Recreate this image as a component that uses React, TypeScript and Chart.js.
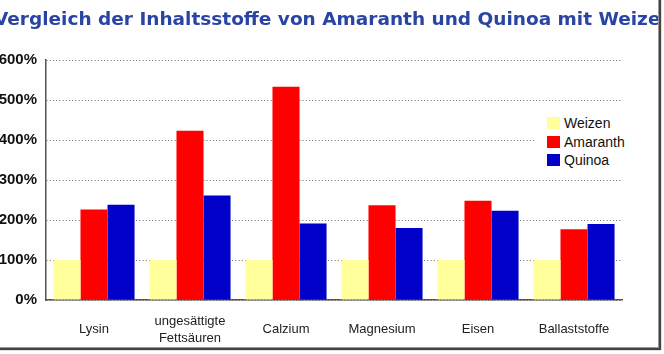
import React, { useEffect, useRef } from "react";
import { Chart, registerables } from "chart.js";

Chart.register(...registerables);

const titleText = "Vergleich der Inhaltsstoffe von Amaranth und Quinoa mit Weizen";
const categories: (string | string[])[] = [
  "Lysin",
  ["ungesättigte", "Fettsäuren"],
  "Calzium",
  "Magnesium",
  "Eisen",
  "Ballaststoffe",
];
const seriesNames = ["Weizen", "Amaranth", "Quinoa"];
const seriesColors = ["#ffff9c", "#ff0000", "#0000c8"];
const weizen = [100, 100, 100, 100, 100, 100];
const amaranth = [226, 423, 533, 237, 248, 177];
const quinoa = [238, 261, 191, 180, 223, 190];
const yMax = 600;
const yStep = 100;

export default function App() {
  const ref = useRef<HTMLCanvasElement | null>(null);

  useEffect(() => {
    if (!ref.current) return;
    const values = [weizen, amaranth, quinoa];
    const chart = new Chart(ref.current, {
      type: "bar",
      data: {
        labels: categories,
        datasets: values.map((v, i) => ({
          label: seriesNames[i],
          data: v,
          backgroundColor: seriesColors[i],
          borderWidth: 0,
          categoryPercentage: 0.845,
          barPercentage: 1,
        })),
      },
      options: {
        responsive: false,
        animation: false,
        layout: { padding: { top: 60, right: 42, left: 0, bottom: 0 } },
        plugins: {
          legend: { display: false },
          title: { display: false },
          tooltip: { enabled: false },
        },
        scales: {
          x: {
            grid: { display: false, drawTicks: false },
            border: { display: true, color: "#555", width: 1.5 },
            ticks: {
              color: "#222",
              font: { family: "'Liberation Sans', Arial, sans-serif", size: 13, lineHeight: "17px" },
              padding: 21,
              crossAlign: "center",
              maxRotation: 0,
              autoSkip: false,
            },
            afterFit: (s: any) => {
              s.height = 54;
            },
          },
          y: {
            min: 0,
            max: yMax,
            grid: { color: "#666", lineWidth: 1, drawTicks: false },
            border: { display: true, color: "#555", width: 1.5, dash: [1, 2.2] },
            ticks: {
              stepSize: yStep,
              color: "#111",
              padding: 9,
              font: { family: "'Liberation Sans', Arial, sans-serif", size: 15, weight: "bold" },
              callback: (v: any) => v + "%",
            },
            afterFit: (s: any) => {
              s.width = 46;
            },
          },
        },
      },
    });
    return () => chart.destroy();
  }, []);

  return (
    <div
      style={{
        position: "absolute",
        left: 0,
        top: 0,
        width: 664,
        height: 354,
        overflow: "hidden",
        background: "#fff",
      }}
    >
      <canvas
        ref={ref}
        width={664}
        height={354}
        style={{ position: "absolute", left: 0, top: 0, width: 664, height: 354 }}
      />
      <div
        style={{
          position: "absolute",
          left: -6,
          top: 10,
          whiteSpace: "nowrap",
          fontFamily: "'DejaVu Sans', Verdana, sans-serif",
          fontWeight: "bold",
          fontSize: 18.5,
          lineHeight: "18px",
          color: "#2a44a4",
        }}
      >
        {titleText}
      </div>
      <div
        style={{
          position: "absolute",
          left: 536,
          top: 110,
          width: 94,
          height: 60,
          background: "#fff",
        }}
      >
        {seriesNames.map((n, i) => (
          <div
            key={n}
            style={{
              position: "absolute",
              left: 11,
              top: 5 + i * 18.5,
              height: 16,
              display: "flex",
              alignItems: "center",
              fontFamily: "'Liberation Sans', Arial, sans-serif",
              fontSize: 14,
              color: "#111",
            }}
          >
            <span
              style={{
                display: "inline-block",
                width: 13,
                height: 12,
                background: seriesColors[i],
                marginRight: 4,
              }}
            />
            {n}
          </div>
        ))}
      </div>
      <div
        style={{
          position: "absolute",
          left: 659,
          top: 0,
          width: 664 - 659,
          height: 354,
          background: "#fff",
        }}
      />
      <div
        style={{
          position: "absolute",
          left: 0,
          top: 349,
          width: 664,
          height: 5,
          background: "#fff",
        }}
      />
      <div
        style={{
          position: "absolute",
          left: -5,
          top: -5,
          width: 664,
          height: 353,
          boxSizing: "border-box",
          border: "1px solid #999",
          boxShadow: "2px 2px 1px #444",
          pointerEvents: "none",
        }}
      />
    </div>
  );
}
